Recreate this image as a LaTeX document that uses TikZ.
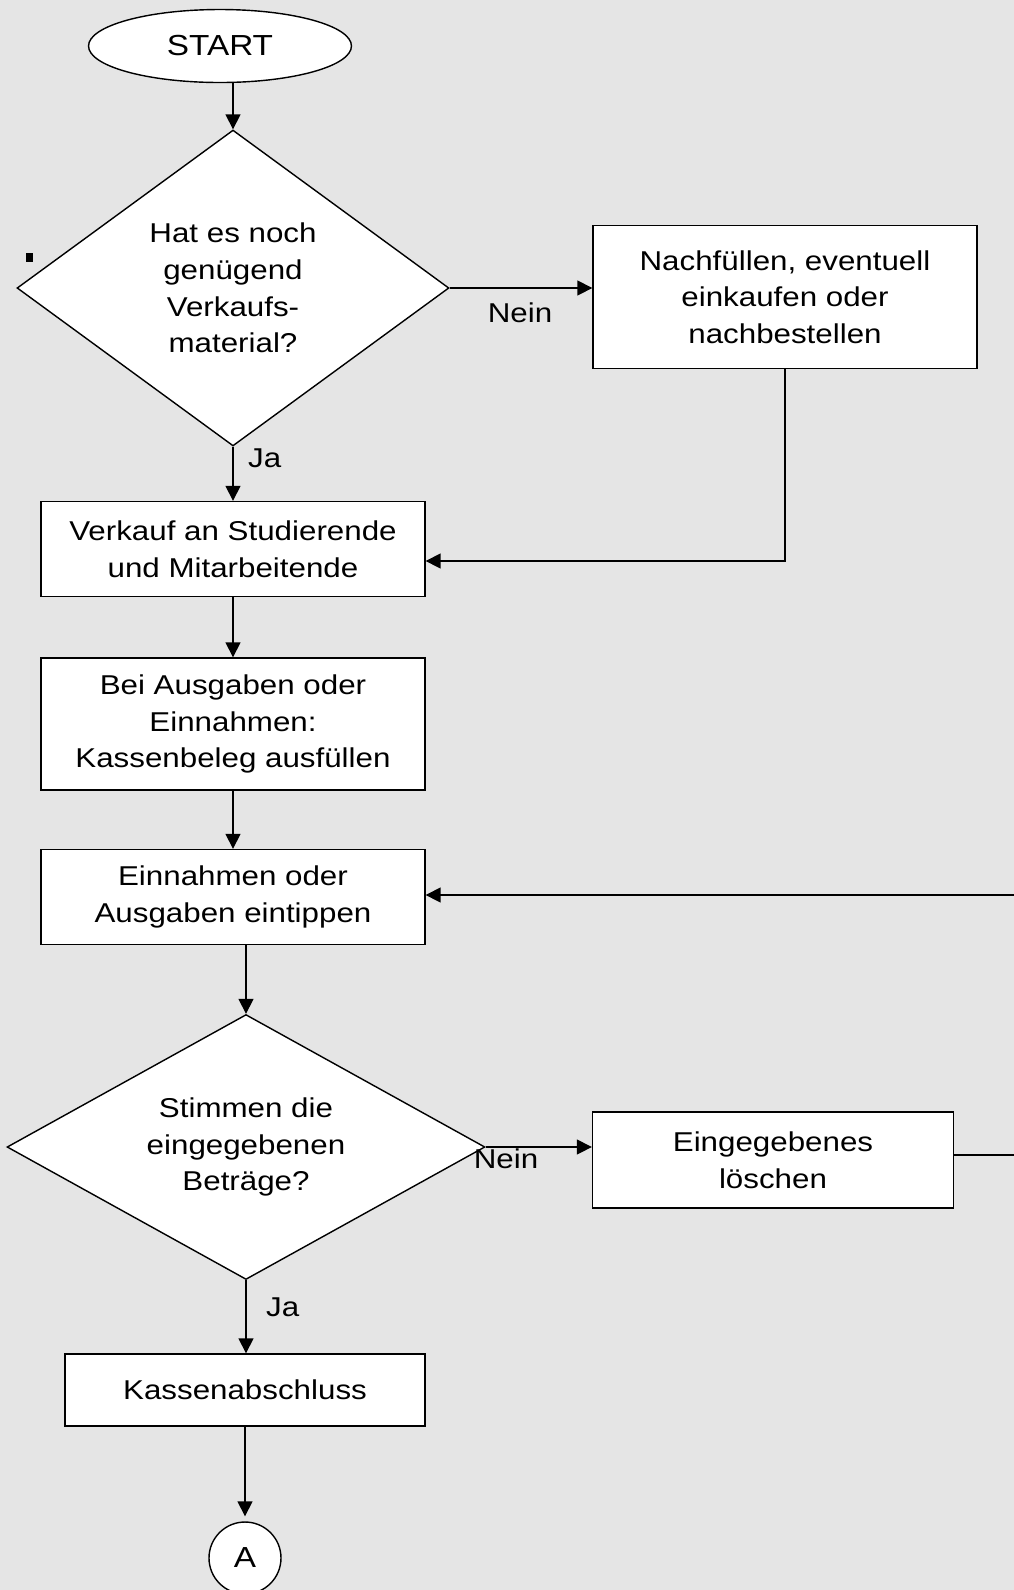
\documentclass[tikz,border=0pt]{standalone}
\usepackage{fontspec}
\setmainfont{Liberation Sans}[FakeStretch=1.15]
\usetikzlibrary{shapes.geometric,arrows.meta}
\definecolor{hintergrund}{gray}{0.9}

\begin{document}
\begin{tikzpicture}[x=0.02cm,y=-0.02cm,
        every node/.style={font=\fontsize{15.5}{20.8}\selectfont},
        kasten/.style={draw,fill=white,line width=0.8pt,align=center,inner sep=0pt},
        raute/.style={diamond,draw,fill=white,line width=0.8pt,align=center,inner sep=0pt},
        gross/.style={font=\fontsize{16.5}{20}\selectfont},
        linie/.style={line width=0.8pt},
        pfeil/.style={line width=0.8pt,-{Triangle[length=0.3cm,width=0.3cm]}}]
        \useasboundingbox (0,0) rectangle (1014,1590);
        \clip (0,0) rectangle (1014,1590);
        \fill[hintergrund] (0,0) rectangle (1014,1590);
        \fill (26,253) rectangle (33,262);
        % Knoten
        \node[kasten,ellipse,gross,minimum width=5.26cm,minimum height=1.46cm] (start) at (220,46) {START};
        \node[raute,aspect=1.37,minimum width=8.64cm,minimum height=6.32cm] (frage1) at (233,288) {Hat es noch\\genügend\\Verkaufs-\\material?};
        \node[kasten,minimum width=7.68cm,minimum height=2.86cm] (nachfuellen) at (785,297) {Nachfüllen, eventuell\\einkaufen oder\\nachbestellen};
        \node[kasten,minimum width=7.68cm,minimum height=1.9cm] (verkauf) at (233,549) {Verkauf an Studierende\\und Mitarbeitende};
        \node[kasten,minimum width=7.68cm,minimum height=2.64cm] (beleg) at (233,724) {Bei Ausgaben oder\\Einnahmen:\\Kassenbeleg ausfüllen};
        \node[kasten,minimum width=7.68cm,minimum height=1.9cm] (eintippen) at (233,897) {Einnahmen oder\\Ausgaben eintippen};
        \node[raute,aspect=1.8,minimum width=9.56cm,minimum height=5.3cm] (frage2) at (246,1147) {Stimmen die\\eingegebenen\\Beträge?};
        \node[kasten,minimum width=7.22cm,minimum height=1.92cm] (loeschen) at (773,1160) {Eingegebenes\\löschen};
        \node[kasten,minimum width=7.2cm,minimum height=1.44cm] (abschluss) at (245,1390) {Kassenabschluss};
        \node[kasten,circle,gross,minimum size=1.44cm] (anschlussA) at (245,1558) {A};
        \coordinate (rand1) at (1014,895);
        \coordinate (rand2) at (1014,1155);
        % Verbindungen
        \draw[pfeil] (frage1.north |- start.south) -- (frage1.north);
        \draw[pfeil] (frage1.east) -- (frage1.east -| nachfuellen.west);
        \node[anchor=base] (nein1) at (520,322) {Nein};
        \draw[pfeil] (frage1.south) -- (verkauf.north);
        \node[anchor=base west] (ja1) at (242,467) {Ja};
        \draw[pfeil] (nachfuellen.south) |- ([yshift=-0.24cm]verkauf.east);
        \draw[pfeil] (verkauf.south) -- (beleg.north);
        \draw[pfeil] (beleg.south) -- (eintippen.north);
        \draw[pfeil] (rand1) -- (rand1 -| eintippen.east);
        \draw[pfeil] (frage2.north |- eintippen.south) -- (frage2.north);
        \draw[pfeil] (frage2.east) -- (frage2.east -| loeschen.west);
        \node[anchor=base] (nein2) at (506,1168) {Nein};
        \draw[linie] (rand2 -| loeschen.east) -- (rand2);
        \draw[pfeil] (frage2.south) -- (abschluss.north -| frage2.south);
        \node[anchor=base west] (ja2) at (260,1316) {Ja};
        \draw[pfeil,shorten >=0.1cm] (abschluss.south) -- (anschlussA.north);
\end{tikzpicture}
\end{document}
